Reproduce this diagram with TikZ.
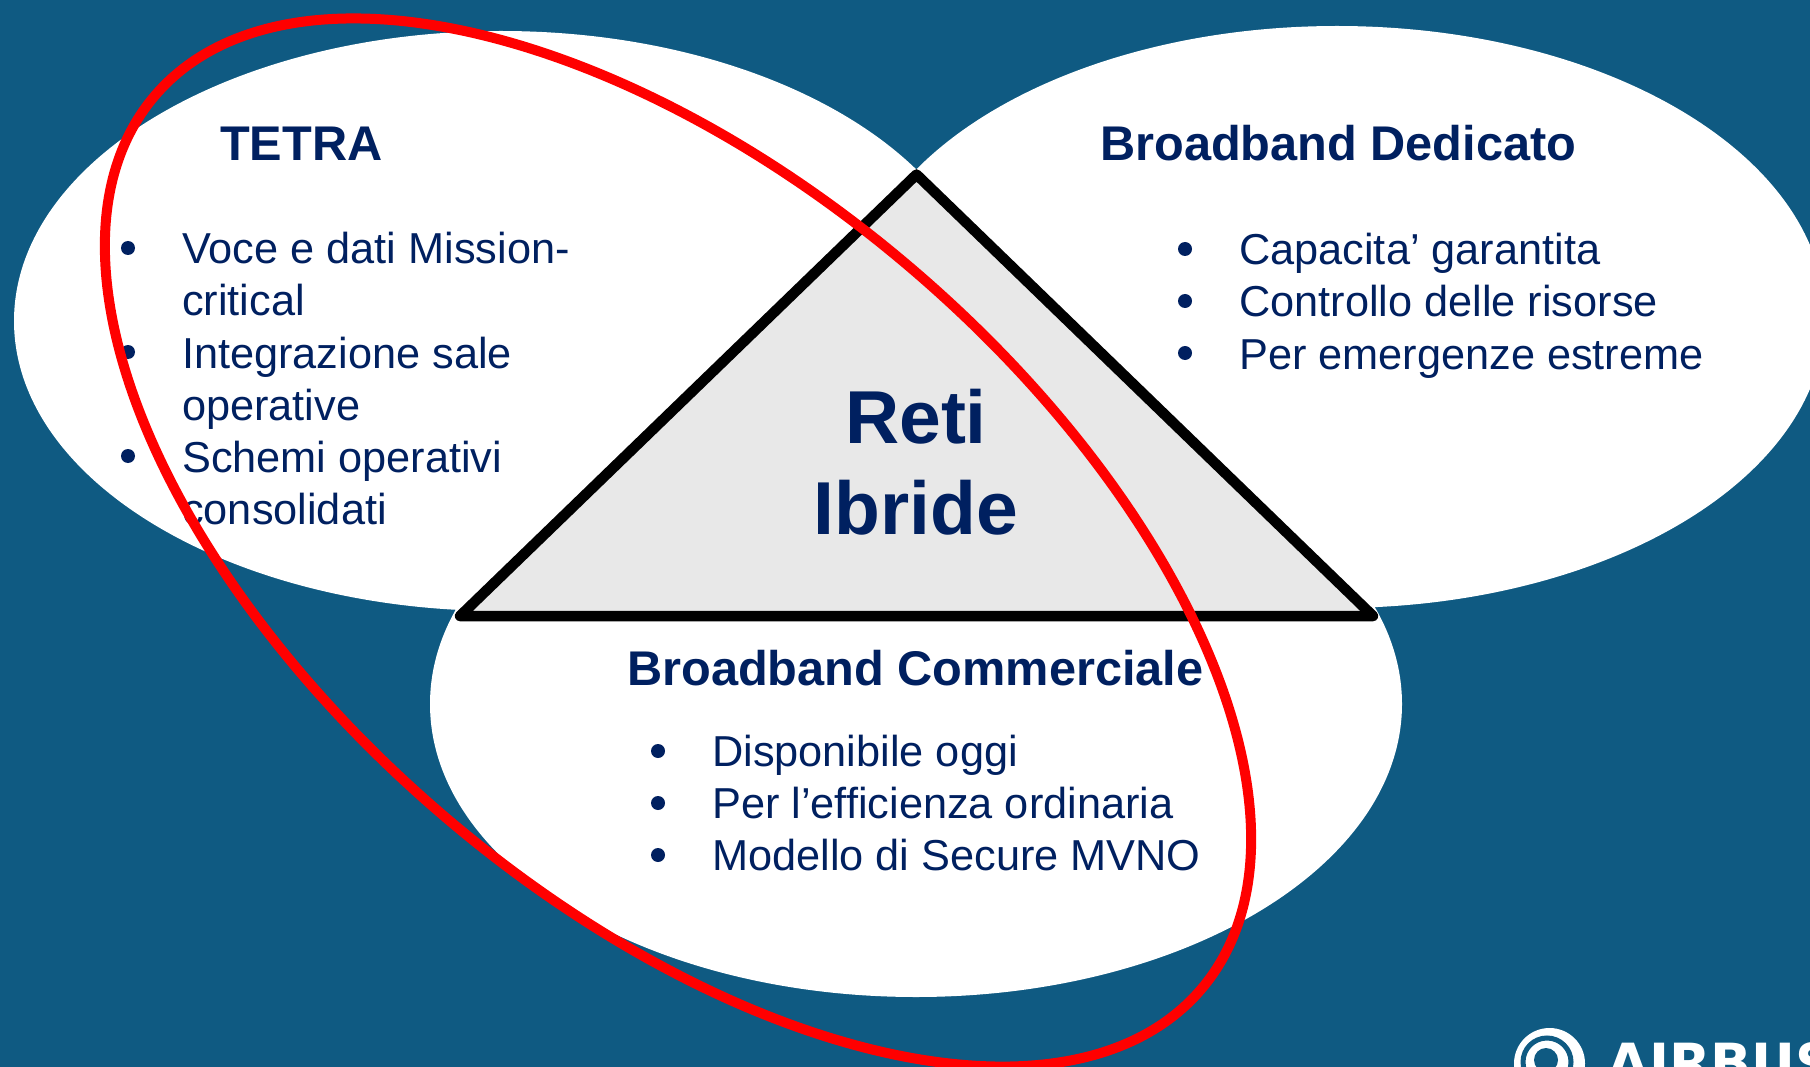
\documentclass[tikz,border=0pt]{standalone}
\usepackage{fontspec}
\setmainfont{Liberation Sans}
\newfontfamily\logofont{DejaVu Sans}
\usetikzlibrary{shapes.geometric}
\definecolor{bgblue}{HTML}{0F5A82}
\definecolor{navy}{HTML}{002060}
\definecolor{trigrey}{HTML}{E8E8E8}
\begin{document}
\begin{tikzpicture}[x=1pt,y=1pt]
			\tikzstyle{every node}+=[inner sep=0pt,anchor=base west,text=navy]
			\tikzstyle{heading}=[font=\fontsize{48.7}{54}\selectfont\bfseries]
			\tikzstyle{itemtext}=[font=\fontsize{43.3}{52}\selectfont]
			\tikzstyle{itemdot}=[circle,fill=navy,minimum size=14,anchor=center]
			\tikzstyle{hybrid}=[font=\fontsize{75}{90}\selectfont\bfseries,anchor=base]
			\useasboundingbox (0,0) rectangle (1810,-1067);
			\fill [bgblue] (0,0) rectangle (1810,-1067);
			% three networks
			\fill [white] (501,-321) ellipse [x radius=487, y radius=290];
			\fill [white] (1337,-317) ellipse [x radius=488, y radius=291];
			\fill [white] (916,-704) ellipse [x radius=486, y radius=293];
			% triangle
			\coordinate (apex) at (916.5,-174.5);
			\coordinate (leftc) at (460,-616);
			\coordinate (rightc) at (1373,-616);
			\draw [black,fill=trigrey,line width=10.5,line join=round] (apex) -- (leftc) -- (rightc) -- cycle;
			\draw (916,-443) node [hybrid] (reti) {Reti};
			\draw (916,-534) node [hybrid] (ibride) {Ibride};
			% tetra
			\draw (220,-161) node [heading] (tetra) {TETRA};
			\node [itemdot] (tetra1b) at (128,-248) {};
			\draw (182,-264) node [itemtext] (tetra1) {Voce e dati Mission-};
			\draw (182,-316) node [itemtext] (tetra1c) {critical};
			\node [itemdot] (tetra2b) at (128,-352) {};
			\draw (182,-368) node [itemtext] (tetra2) {Integrazione sale};
			\draw (182,-420) node [itemtext] (tetra2c) {operative};
			\node [itemdot] (tetra3b) at (128,-456) {};
			\draw (182,-472) node [itemtext] (tetra3) {Schemi operativi};
			\draw (182,-524) node [itemtext] (tetra3c) {consolidati};
			% dedicated broadband
			\draw (1100,-161) node [heading] (dedicato) {Broadband Dedicato};
			\node [itemdot] (ded1b) at (1185,-249) {};
			\draw (1239,-265) node [itemtext] (ded1) {Capacita’ garantita};
			\node [itemdot] (ded2b) at (1185,-301) {};
			\draw (1239,-317) node [itemtext] (ded2) {Controllo delle risorse};
			\node [itemdot] (ded3b) at (1185,-353) {};
			\draw (1239,-369) node [itemtext] (ded3) {Per emergenze estreme};
			% commercial broadband
			\draw (627,-685) node [heading] (commerciale) {Broadband Commerciale};
			\node [itemdot] (com1b) at (658,-751) {};
			\draw (712,-766) node [itemtext] (com1) {Disponibile oggi};
			\node [itemdot] (com2b) at (658,-803) {};
			\draw (712,-818) node [itemtext] (com2) {Per l’efficienza ordinaria};
			\node [itemdot] (com3b) at (658,-855) {};
			\draw (712,-870) node [itemtext] (com3) {Modello di Secure MVNO};
			% red ring
			\draw [red,line width=10] (678,-542.5) ellipse [x radius=688, y radius=360, rotate=-40.5];
			% logo
			\fill [white] (1549.5,-1063.5) circle (35.5);
			\draw [bgblue,line width=5] (1547,-1062) circle (24);
			\fill [bgblue] (1546,-1060) circle (12);
			\draw (1607,-1082) node [text=white,font=\logofont\fontsize{54}{54}\selectfont\bfseries] (airbus) {AIRBUS};
		\end{tikzpicture}
\end{document}
